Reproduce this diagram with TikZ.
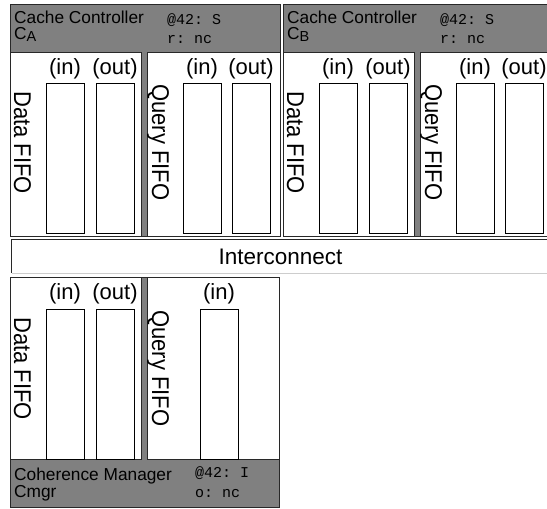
\documentclass[tikz,border=0pt]{standalone}
\usepackage{fontspec}
\setmainfont{Liberation Sans}
\setmonofont{Liberation Mono}
\usepackage{tikz}
\definecolor{ccgray}{RGB}{128,128,128}
\definecolor{ccline}{RGB}{40,40,40}
\definecolor{cclight}{RGB}{205,205,205}
\tikzset{
  unit/.style={draw=ccline, rectangle, fill=ccgray, line width=0.7pt, inner sep=0pt, outer sep=0pt},
  panel/.style={draw=ccline, rectangle, fill=white, line width=0.6pt, inner sep=0pt, outer sep=0pt},
  fifo/.style={draw=black, rectangle, fill=white, line width=0.7pt, minimum width=38pt, minimum height=150pt, inner sep=0pt, outer sep=0pt},
  headtxt/.style={anchor=base west, inner sep=0pt, font=\fontsize{17.3}{20}\selectfont},
  monotxt/.style={anchor=base west, inner sep=0pt, font=\fontsize{15}{17}\selectfont\ttfamily},
  porttxt/.style={anchor=base, inner sep=0pt, font=\fontsize{22}{26}\selectfont},
  sidetxt/.style={anchor=base west, rotate=-90, inner sep=0pt, yscale=1.1, font=\fontsize{22}{26}\selectfont}
}
\begin{document}
\begin{tikzpicture}[x=1pt, y=-1pt]
  \clip (0,0) rectangle (547,509);
  \fill[white] (0,0) rectangle (547,509);

  % cache controller A
  \node[unit, minimum width=270pt, minimum height=232pt] (ctrlA) at (145,120) {};
  \node[headtxt] (nameA) at (14,23) {Cache Controller};
  \node[headtxt] (idA) at (14,39) {C\raisebox{-2pt}{\fontsize{14.5}{15}\selectfont A}};
  \node[monotxt] (stA) at (167,24) {@42: S};
  \node[monotxt] (rqA) at (167,43) {r: nc};
  \node[panel, minimum width=131pt, minimum height=184pt] (dataA) at (75.5,144) {};
  \node[panel, minimum width=133pt, minimum height=184pt] (queryA) at (213.5,144) {};
  \node[fifo] (dinA) at (65,158) {};
  \node[fifo] (doutA) at (115,158) {};
  \node[fifo] (qinA) at (202,158) {};
  \node[fifo] (qoutA) at (251,158) {};
  \node[porttxt] (dinAl) at (65,74) {(in)};
  \node[porttxt] (doutAl) at (115,74) {(out)};
  \node[porttxt] (qinAl) at (202,74) {(in)};
  \node[porttxt] (qoutAl) at (251,74) {(out)};
  \node[sidetxt] (dlabA) at (14,91) {Data FIFO};
  \node[sidetxt] (qlabA) at (152,84) {Query FIFO};

  % cache controller B
  \node[unit, minimum width=270pt, minimum height=232pt] (ctrlB) at (418,120) {};
  \node[headtxt] (nameB) at (287,23) {Cache Controller};
  \node[headtxt] (idB) at (287,39) {C\raisebox{-2pt}{\fontsize{14.5}{15}\selectfont B}};
  \node[monotxt] (stB) at (440,24) {@42: S};
  \node[monotxt] (rqB) at (440,43) {r: nc};
  \node[panel, minimum width=131pt, minimum height=184pt] (dataB) at (348.5,144) {};
  \node[panel, minimum width=133pt, minimum height=184pt] (queryB) at (486.5,144) {};
  \node[fifo] (dinB) at (338,158) {};
  \node[fifo] (doutB) at (388,158) {};
  \node[fifo] (qinB) at (475,158) {};
  \node[fifo] (qoutB) at (524,158) {};
  \node[porttxt] (dinBl) at (338,74) {(in)};
  \node[porttxt] (doutBl) at (388,74) {(out)};
  \node[porttxt] (qinBl) at (475,74) {(in)};
  \node[porttxt] (qoutBl) at (524,74) {(out)};
  \node[sidetxt] (dlabB) at (287,91) {Data FIFO};
  \node[sidetxt] (qlabB) at (425,84) {Query FIFO};

  % interconnect
  \node[rectangle, inner sep=0pt, minimum width=537pt, minimum height=33pt,
        font=\fontsize{22.5}{26}\selectfont] (ic) at (280.5,256.5) {Interconnect};
  \draw[ccline, line width=1pt] (ic.south west) -- (ic.north west) -- (ic.north east);
  \draw[cclight, line width=1pt] (ic.south west) -- (ic.south east);

  % coherence manager
  \node[unit, minimum width=269pt, minimum height=230pt] (mgr) at (144.5,392) {};
  \node[panel, minimum width=131pt, minimum height=182pt] (dataM) at (75.5,368) {};
  \node[panel, minimum width=132pt, minimum height=182pt] (queryM) at (213,368) {};
  \node[fifo] (dinM) at (65,384) {};
  \node[fifo] (doutM) at (115,384) {};
  \node[fifo] (qinM) at (219,384) {};
  \node[porttxt] (dinMl) at (65,299) {(in)};
  \node[porttxt] (doutMl) at (115,299) {(out)};
  \node[porttxt] (qinMl) at (219,299) {(in)};
  \node[sidetxt] (dlabM) at (14,317) {Data FIFO};
  \node[sidetxt] (qlabM) at (152,310) {Query FIFO};
  \node[headtxt] (nameM) at (14,480) {Coherence Manager};
  \node[headtxt] (idM) at (14,497) {Cmgr};
  \node[monotxt] (stM) at (195,477) {@42: I};
  \node[monotxt] (rqM) at (195,497) {o: nc};
\end{tikzpicture}
\end{document}
